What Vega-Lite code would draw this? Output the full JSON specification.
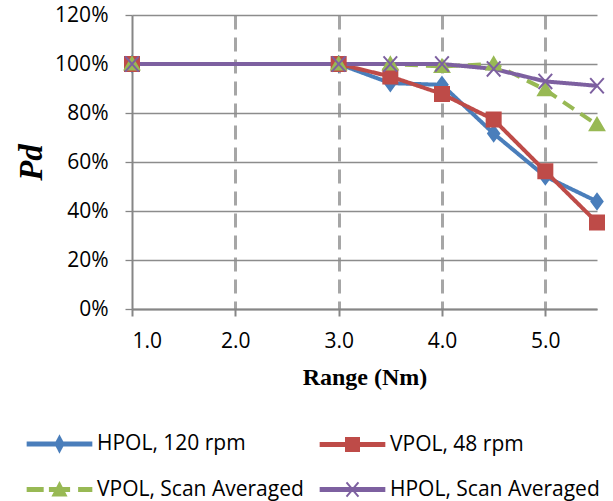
{
  "$schema": "https://vega.github.io/schema/vega-lite/v6.json",
  "width": 465,
  "height": 294,
  "autosize": "none",
  "padding": {"left": 132, "top": 15, "right": 16, "bottom": 192},
  "background": "white",
  "config": {"view": {"stroke": null}, "font": "Open Sans"},
  "data": {
    "values": [
      {"series": "HPOL, 120 rpm", "range": 1.0, "pd": 1.0},
      {"series": "HPOL, 120 rpm", "range": 3.0, "pd": 1.0},
      {"series": "HPOL, 120 rpm", "range": 3.5, "pd": 0.922},
      {"series": "HPOL, 120 rpm", "range": 4.0, "pd": 0.915},
      {"series": "HPOL, 120 rpm", "range": 4.5, "pd": 0.716},
      {"series": "HPOL, 120 rpm", "range": 5.0, "pd": 0.541},
      {"series": "HPOL, 120 rpm", "range": 5.5, "pd": 0.439},
      {"series": "VPOL, 48 rpm", "range": 1.0, "pd": 1.0},
      {"series": "VPOL, 48 rpm", "range": 3.0, "pd": 1.0},
      {"series": "VPOL, 48 rpm", "range": 3.5, "pd": 0.949},
      {"series": "VPOL, 48 rpm", "range": 4.0, "pd": 0.878},
      {"series": "VPOL, 48 rpm", "range": 4.5, "pd": 0.773},
      {"series": "VPOL, 48 rpm", "range": 5.0, "pd": 0.562},
      {"series": "VPOL, 48 rpm", "range": 5.5, "pd": 0.353},
      {"series": "VPOL, Scan Averaged", "range": 1.0, "pd": 1.0},
      {"series": "VPOL, Scan Averaged", "range": 3.0, "pd": 1.0},
      {"series": "VPOL, Scan Averaged", "range": 3.5, "pd": 1.0},
      {"series": "VPOL, Scan Averaged", "range": 4.0, "pd": 0.99},
      {"series": "VPOL, Scan Averaged", "range": 4.5, "pd": 1.0},
      {"series": "VPOL, Scan Averaged", "range": 5.0, "pd": 0.895},
      {"series": "VPOL, Scan Averaged", "range": 5.5, "pd": 0.752},
      {"series": "HPOL, Scan Averaged", "range": 1.0, "pd": 1.0},
      {"series": "HPOL, Scan Averaged", "range": 3.0, "pd": 1.0},
      {"series": "HPOL, Scan Averaged", "range": 3.5, "pd": 1.0},
      {"series": "HPOL, Scan Averaged", "range": 4.0, "pd": 1.0},
      {"series": "HPOL, Scan Averaged", "range": 4.5, "pd": 0.98},
      {"series": "HPOL, Scan Averaged", "range": 5.0, "pd": 0.929},
      {"series": "HPOL, Scan Averaged", "range": 5.5, "pd": 0.911}
    ]
  },
  "encoding": {
    "x": {
      "field": "range",
      "type": "quantitative",
      "scale": {"domain": [1, 5.5], "nice": false, "zero": false},
      "axis": {
        "values": [1, 2, 3, 4, 5],
        "format": ".1f",
        "title": "Range (Nm)",
        "grid": true,
        "gridDash": [14, 8],
        "gridWidth": 3,
        "gridColor": "#a6a6a6",
        "gridOpacity": {"condition": {"test": "datum.value == 1", "value": 0}, "value": 1},
        "domainColor": "#868686",
        "domainWidth": 2,
        "tickColor": "#868686",
        "tickWidth": 2,
        "tickSize": 7,
        "labelFont": "Open Sans",
        "labelFontSize": 21,
        "labelColor": "#000000",
        "labelPadding": 14,
        "titleFont": "Liberation Serif",
        "titleFontSize": 24,
        "titleFontWeight": "bold",
        "titleColor": "#000000",
        "titlePadding": 14
      }
    },
    "y": {
      "field": "pd",
      "type": "quantitative",
      "scale": {"domain": [0, 1.2], "nice": false},
      "axis": {
        "values": [0, 0.2, 0.4, 0.6, 0.8, 1.0, 1.2],
        "format": ".0%",
        "title": "Pd",
        "grid": true,
        "gridColor": "#8c8c8c",
        "gridWidth": 1.3,
        "domainColor": "#868686",
        "domainWidth": 2,
        "tickColor": "#868686",
        "tickWidth": 1.3,
        "tickSize": 7,
        "labelFont": "Open Sans",
        "labelFontSize": 21,
        "labelColor": "#000000",
        "labelPadding": 17,
        "titleFont": "Liberation Serif",
        "titleFontSize": 33,
        "titleFontStyle": "italic",
        "titleFontWeight": "bold",
        "titleColor": "#000000",
        "titlePadding": 6
      }
    }
  },
  "layer": [
    {
      "mark": {"type": "line", "strokeWidth": 4, "strokeJoin": "round"},
      "encoding": {
        "color": {
          "field": "series",
          "type": "nominal",
          "scale": {
            "domain": ["HPOL, 120 rpm", "VPOL, Scan Averaged", "VPOL, 48 rpm", "HPOL, Scan Averaged"],
            "range": ["#4A7EBB", "#98B954", "#BE4B48", "#7D60A0"]
          },
          "legend": {
            "title": null,
            "orient": "none",
            "legendX": -83,
            "legendY": 418,
            "columns": 2,
            "columnPadding": 12,
            "rowPadding": 22,
            "labelFont": "Open Sans",
            "labelFontSize": 21,
            "labelColor": "#000000",
            "labelOffset": 27,
            "labelLimit": 300,
            "symbolSize": 256,
            "symbolStrokeWidth": 2,
            "encode": {
              "symbols": {
                "update": {
                  "shape": {"signal": "datum.value === 'HPOL, 120 rpm' ? 'M-3.98,-0.19H3.98V0.19H-3.98Z M0,-0.94L0.5,0L0,0.94L-0.5,0Z' : datum.value === 'VPOL, 48 rpm' ? 'M-3.98,-0.19H3.98V0.19H-3.98Z M-0.81,-0.81H0.81V0.81H-0.81Z' : datum.value === 'VPOL, Scan Averaged' ? 'M-3.98,-0.19H-2.1V0.19H-3.98Z M2.45,-0.19H3.98V0.19H2.45Z M-1.2,-0.19H1.2V0.19H-1.2Z M0,-0.8L0.8,0.75H-0.8Z' : 'M-3.98,-0.19H3.98V0.19H-3.98Z M-0.75,-0.9L0.75,0.9 M-0.75,0.9L0.75,-0.9'"},
                  "fill": {"signal": "scale('color', datum.value)"},
                  "stroke": {"signal": "scale('color', datum.value)"},
                  "strokeWidth": {"value": 2},
                  "strokeDash": {"value": [1, 0]},
                  "opacity": {"value": 1}
                }
              }
            }
          }
        },
        "strokeDash": {
          "field": "series",
          "type": "nominal",
          "scale": {
            "domain": ["HPOL, 120 rpm", "VPOL, 48 rpm", "VPOL, Scan Averaged", "HPOL, Scan Averaged"],
            "range": [[1, 0], [1, 0], [13, 8], [1, 0]]
          },
          "legend": null
        }
      }
    },
    {
      "transform": [{"filter": "datum.series === 'HPOL, 120 rpm'"}],
      "mark": {"type": "point", "filled": true, "strokeWidth": 2, "size": 256, "opacity": 1, "shape": "M0,-0.95L0.7,0L0,0.95L-0.7,0Z", "fill": "#4A7EBB", "stroke": "#4A7EBB"}
    },
    {
      "transform": [{"filter": "datum.series === 'VPOL, 48 rpm'"}],
      "mark": {"type": "point", "filled": true, "strokeWidth": 2, "size": 256, "opacity": 1, "shape": "M-0.875,-0.875H0.875V0.875H-0.875Z", "fill": "#BE4B48", "stroke": "#BE4B48"}
    },
    {
      "transform": [{"filter": "datum.series === 'VPOL, Scan Averaged'"}],
      "mark": {"type": "point", "filled": true, "strokeWidth": 2, "size": 256, "opacity": 1, "shape": "M0,-0.85L0.9,0.7H-0.9Z", "fill": "#98B954", "stroke": "#98B954"}
    },
    {
      "transform": [{"filter": "datum.series === 'HPOL, Scan Averaged'"}],
      "mark": {"type": "point", "filled": false, "strokeWidth": 2, "size": 256, "opacity": 1, "shape": "M-0.85,-0.95L0.85,0.95M-0.85,0.95L0.85,-0.95", "stroke": "#7D60A0"}
    }
  ]
}
